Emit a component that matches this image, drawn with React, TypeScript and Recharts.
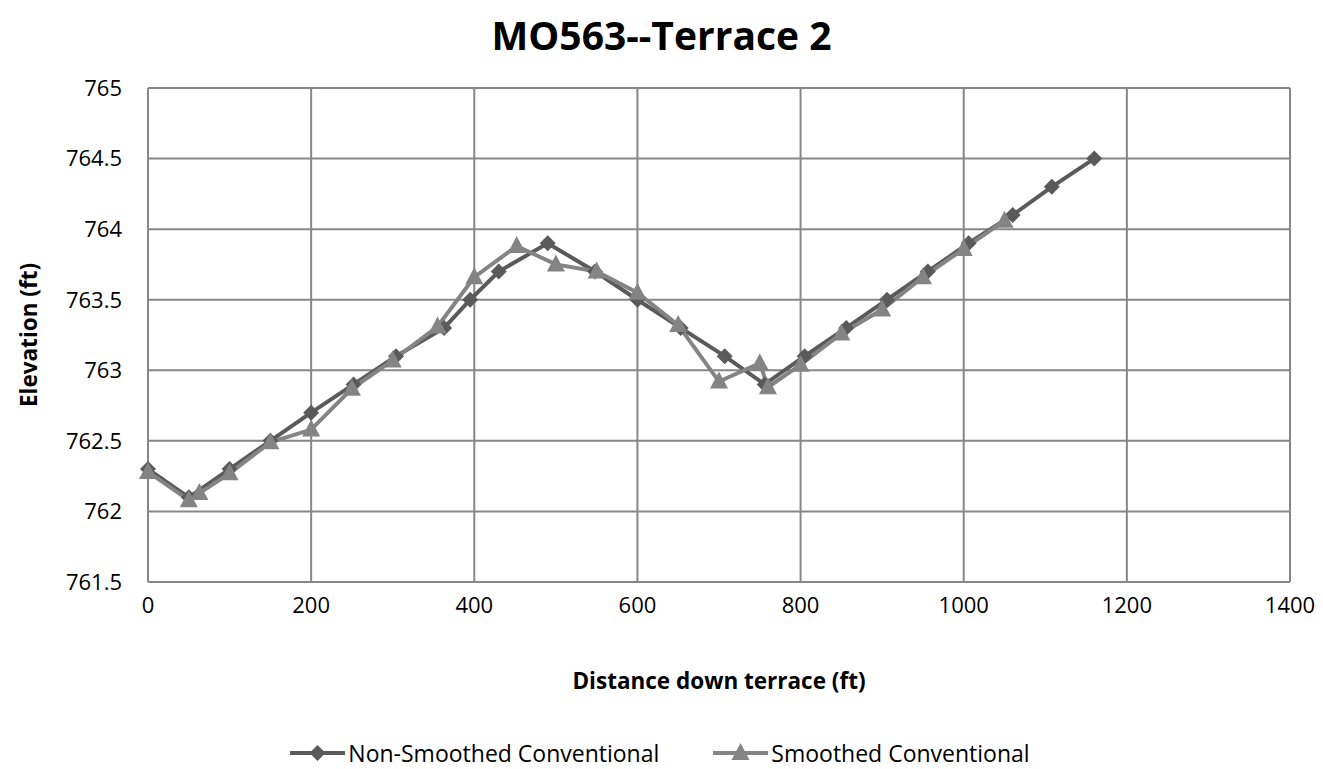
import { CartesianGrid, Legend, Line, LineChart, XAxis, YAxis } from "recharts"

const nonSmoothedX = [0, 50, 100, 150, 200, 252, 304, 363, 395, 430, 490, 548, 600, 653, 707, 756, 805, 856, 906, 956, 1006, 1060, 1108, 1160]
const nonSmoothedY = [762.3, 762.1, 762.3, 762.5, 762.7, 762.9, 763.1, 763.3, 763.5, 763.7, 763.9, 763.7, 763.5, 763.3, 763.1, 762.9, 763.1, 763.3, 763.5, 763.7, 763.9, 764.1, 764.3, 764.5]

const smoothedX = [0, 50, 63, 100, 150, 200, 250, 300, 355, 400, 452, 500, 550, 600, 650, 700, 750, 760, 800, 850, 900, 950, 1000, 1050]
const smoothedY = [762.28, 762.08, 762.13, 762.27, 762.49, 762.58, 762.87, 763.07, 763.31, 763.66, 763.88, 763.75, 763.7, 763.55, 763.32, 762.92, 763.05, 762.88, 763.04, 763.26, 763.43, 763.66, 763.86, 764.06]

const xTicks = [0, 200, 400, 600, 800, 1000, 1200, 1400]
const yTicks = [761.5, 762, 762.5, 763, 763.5, 764, 764.5, 765]

const nonSmoothed = nonSmoothedX.map((x, i) => ({ x, y: nonSmoothedY[i] }))
const smoothed = smoothedX.map((x, i) => ({ x, y: smoothedY[i] }))

const DARK = "#5a5a5a"
const LIGHT = "#848484"
const GRID = "#878787"
const FONT = "'Open Sans', sans-serif"

const Diamond = (props: any) => {
    const { cx, cy } = props
    if (cx == null || cy == null) return null
    return <path d={`M${cx},${cy - 8}L${cx + 8},${cy}L${cx},${cy + 8}L${cx - 8},${cy}Z`} fill={DARK} />
}

const Triangle = (props: any) => {
    const { cx, cy } = props
    if (cx == null || cy == null) return null
    return <path d={`M${cx},${cy - 10}L${cx + 9},${cy + 7}L${cx - 9},${cy + 7}Z`} fill={LIGHT} />
}

const legendItems = [
    { name: "Non-Smoothed Conventional", color: DARK, kind: "diamond" },
    { name: "Smoothed Conventional", color: LIGHT, kind: "triangle" },
]

function ChartLegend() {
    return (
        <div style={{ display: "flex", justifyContent: "center", gap: 54, fontFamily: FONT, fontSize: 23, height: 32, alignItems: "center", paddingLeft: 30 }}>
            {legendItems.map((item) => (
                <div key={item.name} style={{ display: "flex", alignItems: "center" }}>
                    <svg width={58} height={22}>
                        <line x1={0} y1={11} x2={55} y2={11} stroke={item.color} strokeWidth={4} />
                        {item.kind === "diamond" ? (
                            <path d="M27.5,3L35.5,11L27.5,19L19.5,11Z" fill={item.color} />
                        ) : (
                            <path d="M27.5,1L36.5,18L18.5,18Z" fill={item.color} />
                        )}
                    </svg>
                    <span style={{ color: "#000" }}>{item.name}</span>
                </div>
            ))}
        </div>
    )
}

export default function App() {
    return (
        <div style={{ position: "absolute", left: 0, top: 0, width: 1323, height: 769, background: "#fff" }}>
            <div
                style={{
                    position: "absolute",
                    top: 9,
                    width: 1323,
                    textAlign: "center",
                    fontFamily: FONT,
                    fontWeight: 700,
                    fontSize: 39,
                    lineHeight: "52px",
                }}
            >
                MO563--Terrace 2
            </div>
            <LineChart width={1323} height={769} margin={{ top: 88, right: 33, left: 0, bottom: 0 }}>
                <CartesianGrid stroke={GRID} strokeWidth={2} />
                <XAxis
                    type="number"
                    dataKey="x"
                    domain={[0, 1400]}
                    ticks={xTicks}
                    tickLine={false}
                    tickSize={0}
                    tickMargin={15}
                    height={155}
                    axisLine={{ stroke: GRID, strokeWidth: 2 }}
                    tick={{ fill: "#000", fontSize: 22, fontFamily: FONT }}
                    label={(props: any) => {
                        const vb = props.viewBox
                        return (
                            <text x={vb.x + vb.width / 2} y={680} textAnchor="middle" dominantBaseline="central" fontFamily={FONT} fontWeight={700} fontSize={22.5} fill="#000">
                                Distance down terrace (ft)
                            </text>
                        )
                    }}
                />
                <YAxis
                    type="number"
                    domain={[761.5, 765]}
                    ticks={yTicks}
                    width={148}
                    tickLine={false}
                    tickSize={0}
                    tickMargin={26}
                    axisLine={{ stroke: GRID, strokeWidth: 2 }}
                    tick={{ fill: "#000", fontSize: 22, fontFamily: FONT }}
                    label={(props: any) => {
                        const vb = props.viewBox
                        const cy = vb.y + vb.height / 2
                        return (
                            <text x={28} y={cy} transform={`rotate(-90, 28, ${cy})`} textAnchor="middle" dominantBaseline="central" fontFamily={FONT} fontWeight={700} fontSize={22.5} fill="#000">
                                Elevation (ft)
                            </text>
                        )
                    }}
                />
                <Legend verticalAlign="bottom" content={() => <ChartLegend />} />
                <Line
                    data={nonSmoothed}
                    dataKey="y"
                    name="Non-Smoothed Conventional"
                    stroke={DARK}
                    strokeWidth={4}
                    dot={<Diamond />}
                    activeDot={false}
                    isAnimationActive={false}
                />
                <Line
                    data={smoothed}
                    dataKey="y"
                    name="Smoothed Conventional"
                    stroke={LIGHT}
                    strokeWidth={4}
                    dot={<Triangle />}
                    activeDot={false}
                    isAnimationActive={false}
                />
            </LineChart>
        </div>
    )
}
